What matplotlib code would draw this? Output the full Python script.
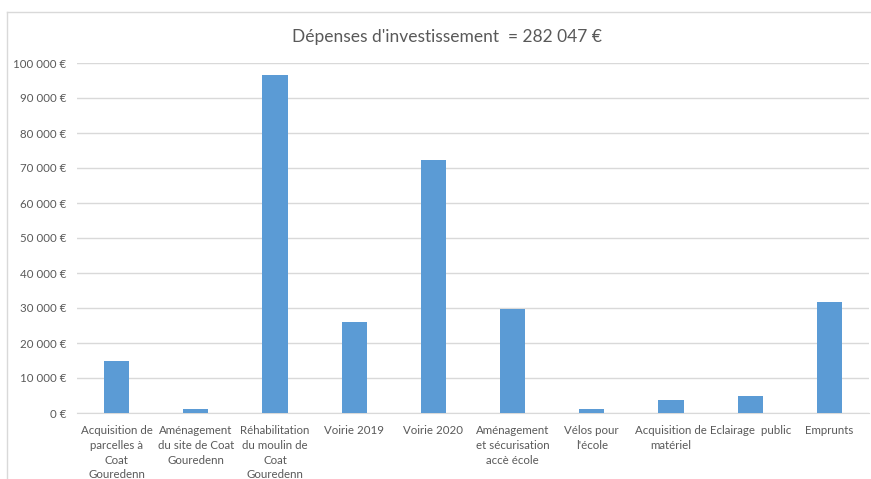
import matplotlib.pyplot as plt
from matplotlib.lines import Line2D
from matplotlib.ticker import FuncFormatter

categories = ["Acquisition de\nparcelles à\nCoat\nGouredenn",
              "Aménagement\ndu site de Coat\nGouredenn",
              "Réhabilitation\ndu moulin de\nCoat\nGouredenn",
              "Voirie 2019",
              "Voirie 2020",
              "Aménagement\net sécurisation\naccè école",
              "Vélos pour\nl'école",
              "Acquisition de\nmatériel",
              "Eclairage  public",
              "Emprunts"]
values = [14800, 1100, 96500, 26000, 72200, 29600, 1100, 3800, 4900, 31600]
yticks = list(range(0, 100001, 10000))

plt.rcParams['font.family'] = ['Lato', 'DejaVu Sans']
grey = "#595959"

fig = plt.figure(figsize=(8.71, 4.79), dpi=100)
ax = fig.add_axes([77/871, 1-413/479, (869-77)/871, (413-63)/479])

x = range(len(categories))
ax.bar(x, values, width=0.32, color="#5b9bd5", zorder=3)

ax.set_xlim(-0.5, len(categories)-0.5)
ax.set_ylim(0, 100000)
ax.set_yticks(yticks)
ax.yaxis.set_major_formatter(FuncFormatter(lambda v, p: f"{int(v):,} €".replace(",", " ")))
ax.grid(axis="y", color="#d9d9d9", linewidth=1, zorder=0)
for s in ["top", "right", "left"]:
    ax.spines[s].set_visible(False)
ax.spines["bottom"].set_color("#d9d9d9")
ax.tick_params(axis="both", length=0, colors=grey, labelsize=8.3)
ax.tick_params(axis="y", pad=8)
ax.tick_params(axis="x", pad=9)
ax.set_xticks(list(x))
ax.set_xticklabels(categories, linespacing=1.4, va="top")

fig.text(447/871, 1-37/479, "Dépenses d'investissement  = 282 047 €",
         ha="center", va="center", fontsize=12.5, color=grey)

# chart frame (left and top only visible)
fig.add_artist(Line2D([7/871, 7/871], [0, 1-12/479], color="#d9d9d9", lw=1, transform=fig.transFigure))
fig.add_artist(Line2D([7/871, 1], [1-12/479, 1-12/479], color="#d9d9d9", lw=1, transform=fig.transFigure))

fig.savefig("out.png", dpi=100)
